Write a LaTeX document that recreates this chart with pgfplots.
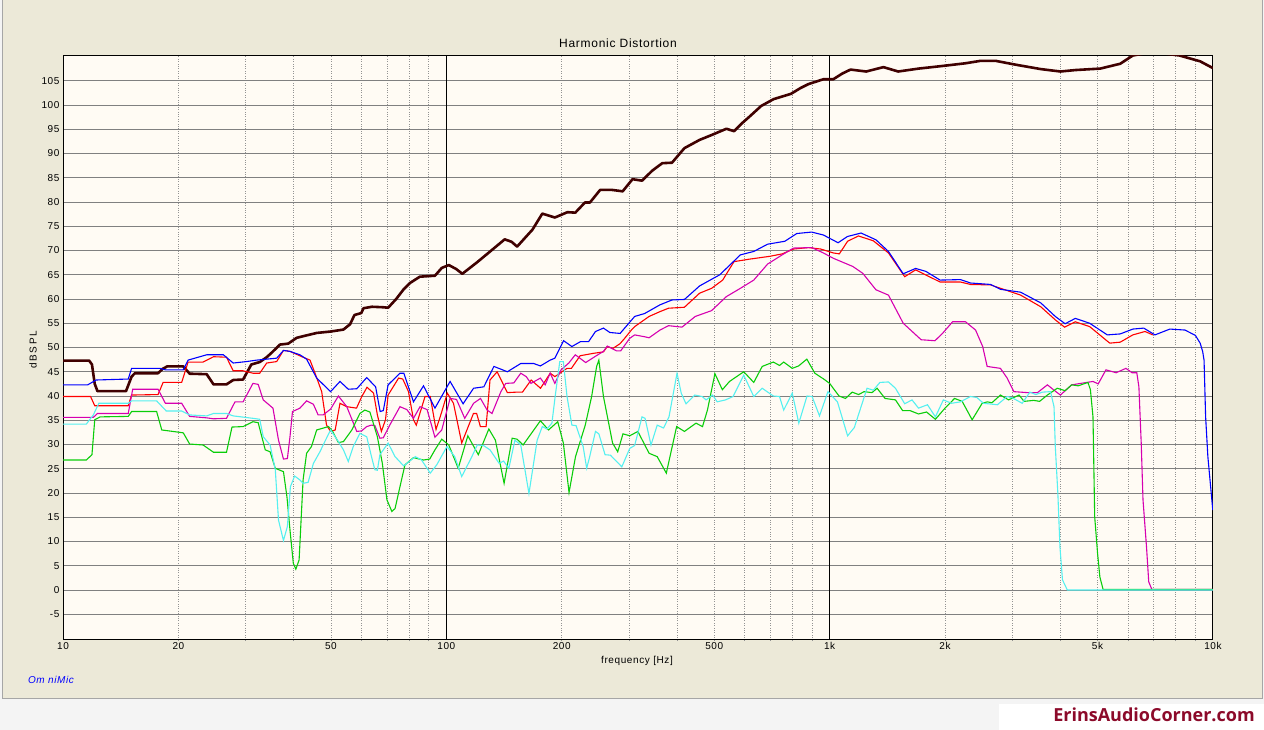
\documentclass[border=0pt]{standalone}
\usepackage{pgfplots}
\usepackage{pgfplotstable}
\usepackage{fontspec}
\pgfplotsset{compat=1.18}
\setmainfont{Liberation Sans}
\newfontfamily\uifont[LetterSpace=6]{Liberation Sans}
\newfontfamily\wmfont{Open Sans}

\definecolor{panel}{RGB}{236,233,216}
\definecolor{plotbg}{RGB}{255,251,244}
\definecolor{strip}{RGB}{244,244,244}
\definecolor{fundc}{RGB}{64,0,0}
\definecolor{magc}{RGB}{214,0,176}
\definecolor{grnc}{RGB}{10,205,10}
\definecolor{cyac}{RGB}{85,240,240}
\definecolor{wmred}{RGB}{140,10,42}

% fundamental
\pgfplotstableread{
f db
10 47.3
11.7 47.3
11.9 46.5
12.1 42.5
12.3 41.0
14.6 41.0
15.1 44.0
15.4 44.7
17.7 44.7
18.2 45.6
18.7 46.1
20.6 46.1
21.4 44.6
23.7 44.5
24.7 42.4
26.7 42.4
27.8 43.3
29.5 43.4
31.0 46.5
32.6 47.0
34.0 48.0
35.1 49.0
36.8 50.6
38.7 50.8
40.7 52.0
43.2 52.5
45.9 53.0
50 53.3
53.9 53.7
56.1 54.8
57.6 56.7
60 57.1
60.8 58.1
64 58.4
68.4 58.3
70.5 58.2
74 60.0
77.4 62.0
80.4 63.3
85.3 64.6
93.4 64.8
97.3 66.4
101.5 67.0
106 66.2
110.1 65.2
120 67.5
129.2 69.6
142 72.3
148 71.8
153 70.8
160 72.5
167.8 74.3
178 77.6
192 76.8
207 77.9
217 77.8
230 79.9
237 79.9
252 82.5
270 82.5
288.5 82.2
306 84.7
324 84.4
345 86.5
366 88.0
388 88.1
418 91.1
457.8 92.8
492 93.8
538 95.1
563 94.6
590 96.2
616 97.5
663 99.8
714 101.2
793 102.3
840 103.5
880 104.3
963 105.3
1022 105.3
1080 106.5
1134 107.3
1245 106.9
1382 107.8
1510 106.9
1706 107.5
2000 108.1
2262 108.6
2476 109.1
2710 109.1
3060 108.3
3555 107.4
4000 106.9
4375 107.2
5080 107.5
5730 108.5
6180 110.2
6600 110.6
7500 110.6
8180 110.2
9260 109.0
10000 107.6
}\fund

% 2nd harmonic (red)
\pgfplotstableread{
f db
10 39.9
11.8 39.9
12.1 38.0
14.8 38.0
15.1 40.2
17.7 40.3
18.25 42.8
20.4 42.8
21.2 47.0
23.2 47.0
24.7 48.1
26.7 48.0
27.8 45.2
29.5 45.2
31.3 44.7
32.6 44.7
34.0 46.8
36.1 47.1
37.6 49.4
39.1 49.2
42 48.1
44.1 47.4
45.4 44.8
47.3 40.9
48.7 34.0
49.9 32.7
51.3 33.0
52.8 38.5
55 37.8
58.3 37.5
60.2 39.9
62.1 41.8
64.6 40.6
66.1 36.1
67.7 32.7
69.4 35.1
70.5 40.2
75.1 43.7
77 43.5
79.7 40.9
82.1 35.1
83.5 34.0
88 39.9
90.8 39.9
94 33.1
97 36.4
100.6 40.6
104.4 38.5
109.7 30.3
117.7 36.4
120 36.4
122.7 33.7
127 33.7
130 43.3
135.7 45.0
144.3 40.7
152.5 40.8
158 40.8
166.5 43.3
176.1 41.6
186.7 44.7
192 44.0
206.4 45.7
212 45.7
223.4 48.3
242 48.8
257 49.1
263 50.2
272 49.8
284 50.8
292 51.9
304 53.6
310 54.3
338 56.4
361 57.4
380 58.1
418 58.3
458 61.2
492 62.2
526 63.9
563 67.7
616 68.2
698 68.8
752 69.3
805 70.3
880 70.6
948 70.3
1022 69.5
1060 69.3
1114 71.9
1189 73.0
1300 72.0
1424 69.5
1570 64.6
1676 66.0
1942 63.5
2195 63.5
2330 63.0
2630 62.9
3150 60.8
3555 58.4
3880 55.7
4100 54.2
4375 55.3
4770 54.3
5380 50.9
5730 51.1
6180 52.6
6650 53.3
6970 52.6
}\hred

% total (blue)
\pgfplotstableread{
f db
10 42.3
11.6 42.3
12.2 43.3
14.8 43.5
15.1 45.7
17.9 45.7
18.5 45.4
20.6 45.4
21.2 47.4
23.7 48.5
26.2 48.5
27.8 46.8
30.1 47.1
32 47.4
36.1 47.8
37.6 49.4
39.1 49.2
41.5 48.5
43.2 47.6
45.9 43.7
49.9 40.9
52.8 43.0
55.5 41.4
58.4 41.5
62 43.8
65.4 41.9
67.2 36.8
68.5 37.0
70.5 42.3
75.7 44.7
77.5 44.7
82.1 38.8
87.2 42.1
93.4 37.5
102.3 43.0
110.6 38.4
117.8 41.6
125.3 41.9
133.1 46.1
144.3 45.0
156.4 46.7
169 46.7
176 46.2
186.6 47.4
192 47.8
202.3 51.4
212.6 50.2
223.7 51.2
235 51.2
245 53.3
257 54.0
267 53.1
284 52.9
310 56.4
329 57.0
361 58.8
388 59.8
418 59.9
458 62.7
517 65.0
585 69.1
634 69.8
689 71.3
764 71.9
821 73.5
898 73.8
963 73.2
1052 71.6
1114 72.9
1208 73.6
1321 72.2
1424 69.8
1556 65.2
1676 66.3
1782 65.7
1942 63.9
2195 64.0
2330 63.3
2630 63.0
2790 62.0
3150 61.4
3555 59.2
3880 56.4
4115 54.9
4375 56.0
4770 55.0
5300 52.6
5730 52.8
6180 53.8
6600 54.0
7060 52.6
7720 53.8
8450 53.6
9000 52.5
9260 50.9
9400 49.2
9480 47.4
9570 35.7
9700 27.5
9990 16.5
}\hblue

% 3rd harmonic (magenta)
\pgfplotstableread{
f db
10 35.6
12.0 35.6
12.3 36.4
14.8 36.4
15.2 41.4
17.7 41.4
18.5 38.5
20.4 38.5
21.4 35.8
23.7 35.5
24.7 35.3
26.7 35.4
28.1 38.8
29.5 38.8
31.3 42.6
32.3 42.4
33.3 39.2
35.3 37.5
36.5 30.9
37.6 27.0
38.5 27.1
39.1 31.6
39.7 36.8
41.5 37.5
43.2 39.0
45 38.3
46.3 36.1
47.7 36.1
49.9 37.3
52.3 40.0
55 37.8
58.4 32.7
60.1 32.8
62 33.7
63.8 34.0
65.1 33.9
67.1 31.3
68.5 31.4
71.2 34.0
75.7 37.8
78.9 37.2
82.1 35.4
85.4 37.8
89.1 37.2
93.4 31.5
97.3 33.0
102.3 39.5
106.3 39.3
111.7 35.4
117.8 38.5
122.8 39.5
127.8 37.1
131.6 36.4
138.8 40.9
142.9 42.6
150 42.7
156.4 44.7
161.6 44.0
166.3 42.6
176 43.7
181.1 42.3
186.6 44.7
192 42.6
199.3 45.4
208.7 46.8
217 48.5
231 46.9
245 48.2
257 49.2
263 50.3
278 49.3
285 49.3
301 51.9
310 52.6
330 52.2
338 52.0
361 53.6
380 54.5
412 54.2
446 56.4
492 57.6
538 60.5
585 62.2
634 63.9
689 67.2
752 69.1
805 70.5
898 70.6
963 69.5
1022 68.4
1150 66.7
1220 65.3
1321 61.9
1424 60.8
1556 55.0
1733 51.6
1883 51.4
1970 52.9
2093 55.3
2262 55.3
2403 53.6
2508 50.2
2576 46.1
2790 45.7
2905 43.7
3024 40.9
3280 40.7
3485 40.7
3700 42.3
3850 41.2
4000 40.2
4280 42.3
4685 42.8
4865 43.0
5020 42.5
5260 45.4
5590 44.8
5930 45.7
6150 44.8
6330 44.8
6410 41.9
6500 30.3
6570 18.6
6710 8.9
6800 1.7
6930 0.1
10000 0.1
}\hmag

% 4th harmonic (green)
\pgfplotstableread{
f db
10 26.8
11.5 26.8
11.9 27.9
12.1 35.1
12.5 35.7
14.8 35.8
15.1 36.8
17.55 36.8
18.1 33.0
20.2 32.5
20.6 32.4
21.4 30.1
23.2 29.9
24.7 28.4
26.7 28.4
27.6 33.6
29.5 33.7
31.3 34.7
32.3 34.5
33.7 28.9
34.7 28.5
35.8 25.1
37.6 24.4
38.4 19.2
39.1 12.4
39.9 5.5
40.5 4.3
41.3 6.2
42.3 22.7
43.2 28.2
44.5 29.6
45.9 33.0
49.3 33.7
50.5 32.7
52.3 30.4
53.9 30.6
56.7 33.0
59.5 36.4
61.3 37.1
63.2 36.7
66.1 31.6
68.1 26.1
70 18.6
72.1 16.2
73.5 16.8
75.7 21.3
78 25.8
82.1 27.3
87.2 26.8
90.5 27.0
93.4 28.9
97.3 31.1
101.5 29.9
107.4 25.1
113.8 31.8
121.2 27.9
129.1 33.2
134.3 30.9
141.5 22.0
148.5 31.3
153 31.1
158.6 29.9
176 34.9
184.8 33.0
195.3 34.7
202 30.3
209 20.1
217.3 27.5
230.4 34.0
239.4 39.9
246.7 46.1
250 47.4
257 39.9
271.5 30.3
280 28.5
289 32.2
301 31.8
316 32.7
338 28.2
355 27.5
375 24.1
399 33.7
418 32.7
448 34.4
466 33.7
480 37.1
502 44.6
525 41.3
548 43.0
597 45.0
634 42.8
667 46.1
713 47.0
740 46.3
759 47.0
799 45.7
830 46.2
872 47.6
915 44.7
965 43.5
1000 42.6
1058 40.0
1100 39.5
1145 40.8
1190 40.3
1230 40.9
1290 40.7
1330 41.6
1395 39.5
1485 39.2
1550 37.0
1620 37.0
1706 36.3
1790 36.7
1888 35.2
2000 37.5
2118 39.5
2217 38.9
2354 35.1
2500 38.5
2580 38.8
2650 38.6
2790 40.2
2930 39.2
3120 40.2
3215 38.9
3410 39.1
3530 38.9
3700 40.2
3925 41.6
4115 41.1
4280 42.3
4450 42.1
4720 42.8
4790 41.3
4865 35.7
4915 15.1
5000 7.6
5070 2.7
5170 0.1
10000 0.1
}\hgrn

% 5th harmonic (cyan)
\pgfplotstableread{
f db
10 34.2
11.5 34.2
12.0 36.1
12.4 38.5
14.8 38.5
15.1 39.0
17.55 39.0
18.6 36.9
20.4 36.9
21.4 36.1
23.7 35.9
24.7 36.4
26.7 36.4
27.8 35.9
31.3 35.4
32.6 35.2
33.3 31.6
34.7 29.9
35.8 24.8
36.5 14.4
37.6 10.2
38.5 13.1
39.2 21.3
40.2 23.5
41.5 22.7
42.3 22.0
43.6 22.2
45 26.1
46.8 28.5
48.2 30.6
49.9 33.0
52.3 30.6
53.9 28.9
55.5 26.5
57.2 29.6
59.5 32.3
62 31.6
63.8 27.5
65.1 24.8
66.1 24.7
67.1 27.9
70.5 30.3
73.5 27.5
77.4 25.6
83 27.5
86.2 26.8
90.8 24.1
94.4 25.8
100.4 29.6
105.2 27.5
109.7 23.4
116.6 27.5
120.4 29.9
125 29.8
130 28.9
137.4 26.1
141 26.6
145.6 25.1
151 30.9
156.4 29.9
164.3 19.9
172.6 30.9
178 33.7
183 33.2
188.6 34.4
192.3 39.9
197.7 47.1
202 47.1
206.5 39.9
212.6 34.0
218 33.9
227.5 29.6
232.4 25.1
236.6 27.5
245 32.7
250 32.2
259.5 27.9
268 27.8
287 25.4
301 29.2
310 29.8
324 35.7
330 35.4
342 29.9
355 34.0
368.8 33.4
381 35.7
399.9 44.7
410 40.6
422 38.4
445 40.2
465 39.9
476 39.2
495 40.2
509 38.8
535 39.2
560 39.9
597 44.3
634 39.9
667 41.6
713 40.0
740 39.9
759 37.1
799 40.6
831 34.4
873 40.0
900 39.9
941 35.9
990 40.9
1048 38.8
1114 31.8
1160 33.5
1252 41.6
1300 41.2
1353 42.8
1424 42.9
1485 41.6
1570 38.4
1640 39.2
1706 37.5
1800 38.2
1888 35.7
1980 39.2
2080 38.5
2195 38.8
2330 39.9
2420 39.7
2520 38.5
2740 38.2
2905 39.9
3000 39.6
3180 38.5
3330 40.8
3450 40.3
3590 40.8
3770 40.9
3850 37.8
3880 29.6
3940 19.9
3990 8.9
4050 2.1
4170 0.0
10000 0.0
}\hcya

\begin{document}
\begin{tikzpicture}
\useasboundingbox (0pt,0pt) rectangle (1264pt,730pt);
% window frame
\fill[strip] (0pt,0pt) rectangle (1264pt,730pt);
\fill[panel] (2pt,31pt) rectangle (1262pt,730pt);
\draw[gray!70, line width=1pt] (2pt,730pt) -- (2pt,31pt) -- (1262pt,31pt) -- (1262pt,730pt);
\fill[white] (999pt,0pt) rectangle (1264pt,26pt);
\node[anchor=base, text=wmred, font=\wmfont\bfseries\fontsize{18}{20}\selectfont] at (1154pt,8pt) {ErinsAudioCorner.com};

\node[font=\uifont\fontsize{12}{14}\selectfont] at (618pt,687pt) {Harmonic Distortion};
\node[font=\uifont\fontsize{10}{12}\selectfont, rotate=90] at (33pt,380pt) {d\,B\,S\,P\,L};
\node[font=\uifont\fontsize{10}{12}\selectfont] at (637pt,69pt) {frequency [Hz]};
\node[font=\uifont\itshape\fontsize{10}{12}\selectfont, text=blue] at (51pt,50pt) {Om niMic};

\begin{axis}[
    at={(63pt,90pt)}, anchor=south west,
    scale only axis, width=1150pt, height=584pt,
    xmode=log, xmin=10, xmax=10000,
    ymin=-10.3, ymax=110.1,
    axis background/.style={fill=plotbg},
    axis line style={black, line width=1pt},
    xtick={10,20,50,100,200,500,1000,2000,5000,10000},
    xticklabels={10,20,50,100,200,500,1k,2k,5k,10k},
    minor xtick={20,30,40,50,60,70,80,90,200,300,400,500,600,700,800,900,2000,3000,4000,5000,6000,7000,8000,9000},
    ytick={-5,0,...,105},
    major tick length=0pt, minor tick length=0pt,
    ymajorgrids, xminorgrids,
    major grid style={gray, line width=0.9pt},
    minor grid style={gray!85, dotted, line width=0.8pt},
    extra x ticks={100,1000},
    extra x tick labels={},
    extra x tick style={grid=major, major grid style={black, line width=0.9pt}},
    /pgf/number format/assume math mode=true,
    tick label style={font=\uifont\fontsize{10}{12}\selectfont},
    xticklabel style={yshift=1pt},
]
\addplot[fundc, line width=2.6pt, line join=round] table {\fund};
\addplot[red, line width=1.1pt] table {\hred};
\addplot[blue, line width=1.1pt] table {\hblue};
\addplot[magc, line width=1.1pt] table {\hmag};
\addplot[grnc, line width=1.1pt] table {\hgrn};
\addplot[cyac, line width=1.1pt] table {\hcya};
\end{axis}
\end{tikzpicture}
\end{document}
